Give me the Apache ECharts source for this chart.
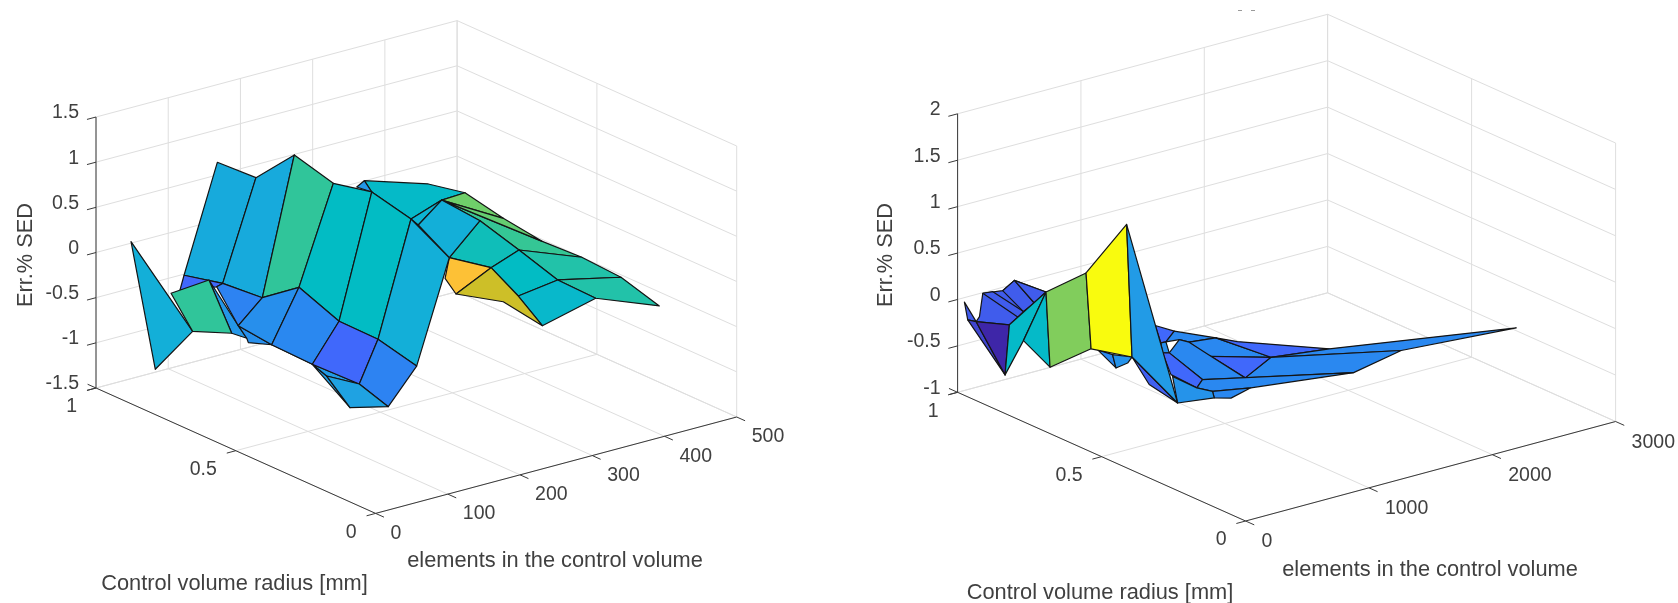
<!DOCTYPE html>
<html><head><meta charset="utf-8">
<style>html,body{margin:0;padding:0;background:#fff}#c{width:1678px;height:603px}</style>
<script src="https://cdn.jsdelivr.net/npm/echarts@6/dist/echarts.min.js"></script>
</head><body><div id="c"></div>
<script>
// ---------- tick labels ----------
const radiusTicks = [0, 0.5, 1];
const leftElementTicks = [0, 100, 200, 300, 400, 500];
const leftErrTicks = [-1.5, -1, -0.5, 0, 0.5, 1, 1.5];
const rightElementTicks = [0, 1000, 2000, 3000];
const rightErrTicks = [-1, -0.5, 0, 0.5, 1, 1.5, 2];
const radiusLabel = 'Control volume radius [mm]';
const elementsLabel = 'elements in the control volume';
const errLabel = 'Err.% SED';

// ---------- left surface: mesh nodes ----------
const leftElements = [431.6,417.2,401.6,384.8,370.4,356.1,344,294.1,283.6,343.5,329.6,314.7,299.4,285.1,269.6,275,276,256.9,242.6,227,212.4,197.2,182.8,168,233.3,254.2,227.5,231.7,121.9,136.7,152.9,164.9,181.7,196.9,211.7,119.6,127.1,144.7,171,172.4,119.4,125.9,128.4,103.9,117.7,110.5,95.1,48.5,82.1,116.3,131.3,133.5,147.9];
const leftRadius = [.1,.2,.3,.4,.5,.6,.7,.8,.8,.1,.2,.3,.4,.5,.1,.2,.3,.4,.5,.6,.7,.8,.9,1,.45,.2,.3,.35,1,.9,.8,.7,.6,.5,.4,.8,.7,.6,.5,.4,.4,.5,.9,1,.9,.8,.9,1,1,1,.8,.8,.7];
const leftErr = [-.263,-.054,.062,.138,.282,.457,.441,.445,.397,.01,.103,.328,.546,.666,-.136,.042,.215,.227,.547,.741,.729,.937,.577,.64,.57,.023,.027,.122,-.512,-.495,-.549,-.321,-.593,-.687,-.876,-.788,-.876,-.991,-1.127,-1.242,-1.14,-.942,-.515,-.673,-.417,-.852,-.937,.017,-1.468,-.663,-.952,-1.005,-.942];
const leftFaces = [[7,6,5,13,18,19],[8,7,19],[13,3,2,11,12],[13,5,4],[13,4,3],[2,1,10,11],[1,0,9,10],[12,11,16,17],[11,10,15,16],[10,9,14,15],[13,24,18],[13,12,17,24],[17,16,26,27],[16,15,14,25,26],[23,22,29,28],[22,21,30,29],[21,20,31,30],[20,19,32,31],[19,18,33,32],[18,17,34,33],[28,29,42,49],[44,35,50,45],[35,36,51,50],[36,52,37],[37,41,40],[37,38,41],[29,30,35,42],[30,31,36,35],[31,32,37,36],[32,33,38,37],[33,34,39,38],[38,39,40,41],[47,46,48],[43,44,45,46]];
const leftFaceValue = [.40,.28,.50,.56,.55,.46,.46,.43,.41,.39,.37,.35,.77,.69,.335,.335,.49,.41,.41,.35,.17,.28,.26,.25,.30,.29,.23,.26,.24,.17,.23,.31,.35,.49];

// ---------- right surface ----------
const rightElements = [55.3,82.2,150.6,151.4,186.4,300.3,249.9,282.4,341,381.7,436.3,480.2,616.1,204.3,131.9,227.1,177.4,285.7,300.3,253.9,154.6,435.4,350,444.4,322.3,385.8,434.6,589.3,521.7,481,693.4,476.1,630,584.4,652.7,905.9,634,1146,696.7,548.6,584.4,494,538.8,562.4,1343,743.1,665.8,679.6,815.5,575.4,1495,2428];
const rightRadius = [1,1,1,.9,.9,.9,.8,.8,.7,.7,.6,.6,.5,1,.9,.9,1,1,.9,.9,.8,.7,.6,.6,.6,.5,.5,.5,.5,.5,.4,.4,.5,.4,.4,.3,.3,.2,.3,.5,.4,.5,.4,.5,.2,.3,.4,.4,.4,.5,.1,.1];
const rightErr = [-.049,-.25,-.293,-.728,-.201,-.412,.268,-.553,.58,-.252,1.207,-.237,-.642,-.006,.186,.263,-.249,-.018,-.099,-.142,.184,-.282,-.308,-.289,-.155,-.361,.258,.141,.05,.054,.171,.202,.036,.054,-.014,.024,.29,.168,-.123,-.078,-.24,-.058,-.313,-.317,-.159,-.247,-.396,-.472,-.522,-.341,.164,.075];
const rightFaces = [[26,27,28,29],[29,28,39,41],[27,30,31,32,28],[31,30,35,34,33],[30,36,37,35],[35,37,51,50],[35,50,44,38],[34,35,38],[32,31,34,38,40,39],[41,39,40,42,43],[42,40,44,45,46],[46,45,48,47],[49,42,46,47,12],[21,24,22],[24,11,23,22],[11,25,12],[13,14,15,6,4,2,16],[13,17,18,19],[14,15,20,18],[15,6,20],[0,2,1],[1,2,3],[2,4,3],[4,6,5,3],[6,7,5],[6,8,9,7],[8,10,11,9],[10,12,11]];
const rightFaceValue = [.17,.26,.24,.24,.17,.24,.24,.17,.24,.17,.24,.24,.27,.24,.27,.15,.14,.14,.14,.14,.14,.08,0,.40,.40,.58,1,.29];

// ---------- colour ramp ----------
const rampStops = [0,.17,.24,.31,.36,.41,.46,.5,.56,.62,.69,.77,.88,1];
const rampColors = ['#3e26a8','#4068fb','#2a88f0','#1fa2e2','#10b2d6','#02bcc4','#22c2a9','#35c695','#6fcf6a','#a5c840','#cdbf28','#fdc136','#fad82a','#f9fb0e'];
function ramp(v){
  for(let i=1;i<rampStops.length;i++){
    if(v<=rampStops[i]){
      const t=(v-rampStops[i-1])/(rampStops[i]-rampStops[i-1]);
      return echarts.color.lerp(t,[rampColors[i-1],rampColors[i]]);
    }
  }
  return rampColors[rampColors.length-1];
}

// ---------- the two 3-D boxes (orthographic view) ----------
const leftBox = {origin:[375.6,513.4],eVec:[361.1,-96.4],rVec:[-279.6,-125.4],zLen:271,eMax:500,zMin:-1.5,zMax:1.5,
  eTicks:leftElementTicks,zTicks:leftErrTicks,tickOff:[15,20],
  elements:leftElements,radius:leftRadius,err:leftErr,faces:leftFaces,values:leftFaceValue,
  errPos:[26,255],radPos:[234.5,584],elPos:[555,561]};
const rightBox = {origin:[1245.6,521],eVec:[370,-99.5],rVec:[-288,-128.7],zLen:278.5,eMax:3000,zMin:-1,zMax:2,
  eTicks:rightElementTicks,zTicks:rightErrTicks,tickOff:[16,21],
  elements:rightElements,radius:rightRadius,err:rightErr,faces:rightFaces,values:rightFaceValue,
  errPos:[886,255],radPos:[1100,593],elPos:[1430,570]};

function project(b,e,r,z){
  const ex=e/b.eMax, zf=(z-b.zMin)/(b.zMax-b.zMin);
  return [b.origin[0]+ex*b.eVec[0]+r*b.rVec[0],
          b.origin[1]+ex*b.eVec[1]+r*b.rVec[1]-zf*b.zLen];
}
function frameSegments(b){
  const s=[],e1=b.eMax,z0=b.zMin,z1=b.zMax,k=b.eMax*0.025;
  const grid=(p,q)=>s.push({p,q,c:'#dedede'}), axis=(p,q)=>s.push({p,q,c:'#3a3a3a'});
  b.zTicks.forEach(z=>{ grid([0,1,z],[e1,1,z]); grid([e1,1,z],[e1,0,z]); });
  b.eTicks.forEach(e=>{ grid([e,1,z0],[e,1,z1]); grid([e,0,z0],[e,1,z0]); });
  radiusTicks.forEach(r=>{ grid([e1,r,z0],[e1,r,z1]); grid([0,r,z0],[e1,r,z0]); });
  axis([0,1,z0],[0,1,z1]); axis([0,1,z0],[0,0,z0]); axis([0,0,z0],[e1,0,z0]);
  b.zTicks.forEach(z=>axis([0,1,z],[-k,1,z]));
  radiusTicks.forEach(r=>axis([0,r,z0],[-k,r,z0]));
  b.eTicks.forEach(e=>axis([e,0,z0],[e,-0.03,z0]));
  axis([0,1,z0],[0,1.03,z0]);
  return s;
}
function frameTexts(b){
  const t=[];
  const font='19.5px "Liberation Sans"', big='21.8px "Liberation Sans"';
  b.zTicks.forEach(z=>{const p=project(b,0,1,z);t.push({x:p[0]-17,y:p[1]-4,text:String(z),align:'right',font});});
  radiusTicks.forEach(r=>{const p=project(b,0,r,b.zMin);t.push({x:p[0]-19,y:p[1]+19,text:String(r),align:'right',font});});
  b.eTicks.forEach(e=>{const p=project(b,e,0,b.zMin);t.push({x:p[0]+b.tickOff[0],y:p[1]+b.tickOff[1],text:String(e),align:'left',font});});
  t.push({x:b.radPos[0],y:b.radPos[1],text:radiusLabel,align:'center',font:big});
  t.push({x:b.elPos[0],y:b.elPos[1],text:elementsLabel,align:'center',font:big});
  t.push({x:b.errPos[0],y:b.errPos[1],text:errLabel,align:'center',font:big,rot:Math.PI/2});
  return t;
}
function frameSeries(b){
  const segs=frameSegments(b);
  return {type:'custom',silent:true,animation:false,clip:false,z:1,data:segs.map((_,i)=>i),
    renderItem(p,api){
      const g=segs[p.dataIndex];
      const a=api.coord(project(b,...g.p)), c=api.coord(project(b,...g.q));
      return {type:'line',shape:{x1:a[0],y1:a[1],x2:c[0],y2:c[1]},style:{stroke:g.c,lineWidth:1}};
    }};
}
function textSeries(b){
  const items=frameTexts(b);
  return {type:'custom',silent:true,animation:false,clip:false,z:3,data:items.map((_,i)=>i),
    renderItem(p,api){
      const t=items[p.dataIndex];
      const c=api.coord([t.x,t.y]);
      return {type:'text',x:c[0],y:c[1],rotation:t.rot||0,
        style:{text:t.text,font:t.font,fill:'#404040',align:t.align,verticalAlign:'middle'}};
    }};
}
function surfaceSeries(b){
  return {type:'custom',silent:true,animation:false,clip:false,z:2,data:b.faces.map((_,i)=>i),
    renderItem(p,api){
      const face=b.faces[p.dataIndex];
      const pts=face.map(n=>api.coord(project(b,b.elements[n],b.radius[n],b.err[n])));
      return {type:'polygon',shape:{points:pts},
        style:{fill:ramp(b.values[p.dataIndex]),stroke:'#141414',lineWidth:1.2,lineJoin:'round'}};
    }};
}
// the two specks left at the top of the right panel by a clipped title
const clippedTitleSpecks = [1240, 1253];
const specks = {type:'custom',silent:true,animation:false,clip:false,z:1,data:clippedTitleSpecks,
  renderItem(p,api){
    const x=clippedTitleSpecks[p.dataIndex];
    const a=api.coord([x-2,10.5]), c=api.coord([x+2,10.5]);
    return {type:'line',shape:{x1:a[0],y1:a[1],x2:c[0],y2:c[1]},style:{stroke:'#9a9a9a',lineWidth:1}};
  }};
const chart=echarts.init(document.getElementById('c'),null,{renderer:'canvas'});
chart.setOption({
  animation:false,backgroundColor:'#fff',
  grid:{left:0,right:0,top:0,bottom:0},
  xAxis:{type:'value',min:0,max:1678,show:false},
  yAxis:{type:'value',min:0,max:603,inverse:true,show:false},
  series:[frameSeries(leftBox),surfaceSeries(leftBox),textSeries(leftBox),
          frameSeries(rightBox),surfaceSeries(rightBox),textSeries(rightBox),specks]
});
</script></body></html>
